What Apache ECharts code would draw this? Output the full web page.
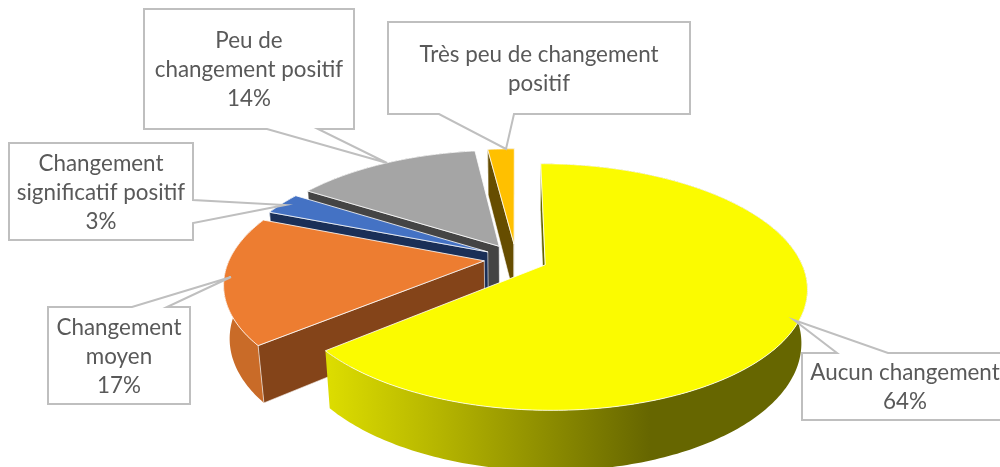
<!DOCTYPE html>
<html><head><meta charset="utf-8">
<style>html,body{margin:0;padding:0;background:#fff}#c{width:1000px;height:467px}</style>
<script src="https://cdn.jsdelivr.net/npm/echarts@6/dist/echarts.min.js"></script>
</head><body><div id="c"></div>
<script>
const categories = ['Aucun changement','Changement moyen','Changement significatif positif','Peu de changement positif','Très peu de changement positif'];
const values = [64,17,3,14,2];
const labelLines = [['Aucun changement','64%'],['Changement','moyen','17%'],['Changement','significatif positif','3%'],['Peu de','changement positif','14%'],['Très peu de changement','positif']];
const topColors = ['#fbfb00','#ed7d31','#4472c4','#a5a5a5','#ffc000'];
const edgeColors = ['#666600','#844419','#1a2f57','#444444','#664d00'];
const rimColors = ['#666600','#c96b28','#2f5496','#6e6e6e','#997300'];

// camera of the tilted, exploded pie
const V = {cx:516, cy:258.5, R:254.5, sy:0.46, p:0.0007, cz:1.0, H:53.5, q:0.00038, explode:32};
function project(X,Y,t){
  const w = 1 + V.p*Y + V.q*t;
  return [V.cx + X/w, V.cy - (V.sy*Y - V.cz*t)/w];
}
const total = values.reduce((a,b)=>a+b,0);
function slice(i){
  let before = 0; for(let k=0;k<i;k++) before += values[k];
  const a0 = before/total*2*Math.PI, a1 = (before+values[i])/total*2*Math.PI, m=(a0+a1)/2;
  const ox = V.explode*Math.sin(m), oy = V.explode*Math.cos(m);
  const n = Math.max(8,Math.round((a1-a0)*60));
  const arc = t => { const pts=[]; for(let j=0;j<=n;j++){const a=a0+(a1-a0)*j/n; pts.push(project(ox+V.R*Math.sin(a),oy+V.R*Math.cos(a),t));} return pts; };
  return {arcTop:arc(0),arcBot:arc(V.H),tipTop:project(ox,oy,0),tipBot:project(ox,oy,V.H)};
}
function area(p){ let s=0; for(let k=0;k<p.length;k++){const q=p[(k+1)%p.length]; s+=p[k][0]*q[1]-q[0]*p[k][1];} return s; }
const thin = 'rgba(255,255,255,0.75)';
function renderSlice(params,api){
  const i = api.value(0);
  const s = slice(i);
  const first = s.arcTop[0], last = s.arcTop[s.arcTop.length-1];
  const firstB = s.arcBot[0], lastB = s.arcBot[s.arcBot.length-1];
  const rim = i===0 ? new echarts.graphic.LinearGradient(330,0,650,0,[{offset:0,color:'#dcdc00'},{offset:0.35,color:'#b4b400'},{offset:1,color:'#666600'}],true) : rimColors[i];
  const st = {lineWidth:0.8,stroke:thin};
  const poly = (points,fill,style) => ({type:'polygon',shape:{points},style:Object.assign({fill},style||st)});
  const wallA=[s.tipTop,first,firstB,s.tipBot], wallB=[s.tipTop,last,lastB,s.tipBot];
  const kids=[poly(s.arcTop.concat(s.arcBot.slice().reverse()),rim,{lineWidth:0})];
  if(area(wallA)<0) kids.push(poly(wallA,edgeColors[i]));
  if(area(wallB)>0) kids.push(poly(wallB,edgeColors[i]));
  kids.push(poly([s.tipTop].concat(s.arcTop),topColors[i],{lineWidth:1,stroke:'rgba(255,255,255,0.8)'}));
  return {type:'group',children:kids};
}
// callout boxes: [left, top, right, bottom, wedge points]
const boxes = [
  {b:[802,353,1008,420],w:[[837,353],[794,320],[888,353]],side:'top'},
  {b:[48,307,190,404],w:[[132,307],[231,277],[167,307]],side:'top'},
  {b:[9,143,193,240],w:[[193,200],[285,205],[193,223]],side:'right'},
  {b:[144,9,354,129],w:[[267,129],[387,163],[318,129]],side:'bottom'},
  {b:[388,22,690,114],w:[[439,114],[506,149],[514,114]],side:'bottom'}
];
function calloutPath(c){
  const [l,t,r,b]=c.b, w=c.w;
  let pts;
  if(c.side==='top') pts=[[l,t],...w,[r,t],[r,b],[l,b]];
  else if(c.side==='right') pts=[[l,t],[r,t],...w,[r,b],[l,b]];
  else pts=[[l,t],[r,t],[r,b],...w.slice().reverse(),[l,b]];
  return pts;
}
const fontSize=22.4, lineH=29.2;
function renderCallout(params,api){
  const i=api.value(0), c=boxes[i];
  const cxx=(c.b[0]+c.b[2])/2, cyy=(c.b[1]+c.b[3])/2+1;
  const lines=labelLines[i];
  const kids=[{type:'polygon',shape:{points:calloutPath(c)},style:{fill:'#fff',stroke:'#bfbfbf',lineWidth:2}}];
  lines.forEach((tx,j)=>kids.push({type:'text',style:{text:tx,x:cxx,y:cyy+(j-(lines.length-1)/2)*lineH,align:'center',verticalAlign:'middle',fontFamily:'Lato',fontSize,fill:'#595959'}}));
  return {type:'group',children:kids};
}
const paintOrder=[4,3,2,1,0];
const chart=echarts.init(document.getElementById('c'),null,{renderer:'canvas'});
chart.setOption({
  animation:false,
  backgroundColor:'#fff',
  series:[
    {type:'custom',coordinateSystem:'none',silent:true,z:2,clip:false,renderItem:renderSlice,
     data:paintOrder.map(i=>({name:categories[i],value:[i,values[i]]}))},
    {type:'custom',coordinateSystem:'none',silent:true,z:3,clip:false,renderItem:renderCallout,
     data:categories.map((n,i)=>({name:n,value:[i,values[i]]}))}
  ]
});
</script></body></html>
